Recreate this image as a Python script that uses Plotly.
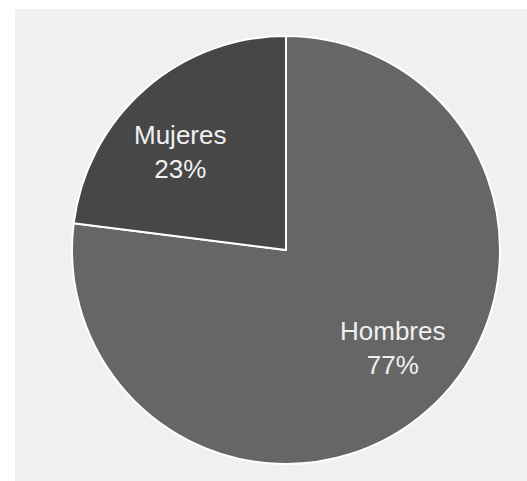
import math
import plotly.graph_objects as go

# Gender breakdown
labels = ["Hombres", "Mujeres"]
values = [77, 23]
colors = ["#666666", "#474747"]

W, H = 527, 481
ml, mr, mt, mb = 15, 0, 9, 0
pw, ph = W - ml - mr, H - mt - mb

# pie centred at (286, 250) px with radius 214 px
cx, cy, r = 286, 250, 214
dx0 = (cx - r - ml) / pw
dx1 = (cx + r - ml) / pw
dy1 = 1 - (cy - r - mt) / ph
dy0 = 1 - (cy + r - mt) / ph

fig = go.Figure(
    go.Pie(
        labels=labels,
        values=values,
        sort=False,
        direction="clockwise",
        rotation=0,
        marker=dict(colors=colors, line=dict(color="#ffffff", width=2)),
        textinfo="none",
        hoverinfo="label+percent",
        domain=dict(x=[dx0, dx1], y=[dy0, dy1]),
        showlegend=False,
    )
)

# slice labels placed along each slice's mid-angle
total = sum(values)
fx, fy = 0.75, 0.61
annotations = []
start = 0.0
for lab, v in zip(labels, values):
    frac = v / total
    mid = (start + frac / 2) * 2 * math.pi
    start += frac
    px = cx + fx * r * math.sin(mid)
    py = cy - fy * r * math.cos(mid)
    annotations.append(
        dict(
            x=(px - ml) / pw, y=1 - (py - mt) / ph,
            xref="paper", yref="paper",
            text=f"{lab}<br>{round(frac * 100)}%",
            showarrow=False, xanchor="center", yanchor="middle", align="center",
            font=dict(family="Liberation Sans, Arial, sans-serif", size=26, color="#f0f0f0"),
        )
    )

fig.update_layout(
    width=W,
    height=H,
    margin=dict(l=ml, r=mr, t=mt, b=mb, pad=0),
    paper_bgcolor="#ffffff",
    shapes=[
        dict(
            type="rect", xref="paper", yref="paper",
            x0=0, x1=1, y0=0, y1=1,
            fillcolor="#f0f0f0", line=dict(width=0), layer="below",
        )
    ],
    annotations=annotations,
)

fig.write_html("out.html")
